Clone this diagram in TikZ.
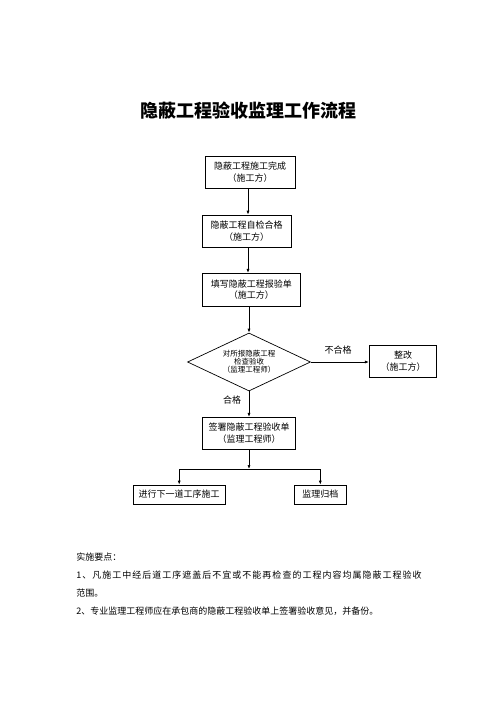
\documentclass[tikz,border=0pt]{standalone}
\usepackage{fontspec}
\setmainfont{Noto Sans CJK SC}
\newfontfamily\widefont[LetterSpace=11.2]{Noto Sans CJK SC}
\usetikzlibrary{shapes.geometric,arrows.meta}
\begin{document}
\begin{tikzpicture}
[x=1pt, y=-1pt, line width=0.7pt,
box/.style={draw, rectangle, inner sep=0pt, align=center, font=\fontsize{9}{11.7}\selectfont},
check/.style={draw, diamond, aspect=2.12, inner sep=0pt, minimum width=123pt, minimum height=58pt, align=center, font=\fontsize{7.5}{8}\selectfont},
arr/.style={-{Latex[length=4pt,width=3pt]}},
lbl/.style={inner sep=0pt, font=\fontsize{9}{9}\selectfont},
note/.style={anchor=west, inner sep=0pt, font=\fontsize{9}{9}\selectfont}]

\useasboundingbox (0,0) rectangle (496,702);

\node (title) at(248,111) {\fontsize{18}{18}\selectfont\bfseries 隐蔽工程验收监理工作流程};

\coordinate (spine) at(248,0);
\node[box, minimum width=90pt, minimum height=32pt] (done) at(250,172) {隐蔽工程施工完成\\（施工方）};
\node[box, minimum width=89pt, minimum height=32pt] (self) at(246.7,231) {隐蔽工程自检合格\\（施工方）};
\node[box, minimum width=97.3pt, minimum height=32.7pt] (form) at(251.3,289.6) {填写隐蔽工程报验单\\（施工方）};
\node[check] (check) at(249,362) {对所报隐蔽工程\\检查验收\\（监理工程师）};
\node[box, minimum width=67.4pt, minimum height=32.3pt] (fix) at(403,361) {整改\\（施工方）};
\node[box, minimum width=93.4pt, minimum height=32pt] (sign) at(249,433.3) {签署隐蔽工程验收单\\（监理工程师）};
\node[box, minimum width=91.7pt, minimum height=19pt] (next) at(179.2,494.5) {进行下一道工序施工};
\node[box, minimum width=52.7pt, minimum height=19pt] (file) at(320.3,494.5) {监理归档};

\node[lbl] (fail) at(338,350) {不合格};
\node[lbl] (pass) at(232,400) {合格};

\draw[arr] (done.south -| spine) -- (self.north -| spine);
\draw[arr] (self.south -| spine) -- (form.north -| spine);
\draw[arr] (form.south -| check.north) -- (check.north);
\draw[arr] (check.east) -- (check.east -| fix.west);
\draw[arr] (check.south) -- (sign.north -| check.south);

\coordinate (branch) at(249,469);
\draw[arr] (sign.south) -- (sign.south |- branch);
\draw[arr] (sign.south |- branch) -| (next.north);
\draw[arr] (sign.south |- branch) -| (file.north);

%notes under the chart
\node[note] (key) at(76,557) {实施要点：};
\node[note] (rule1) at(76,575) {\widefont 1、凡施工中经后道工序遮盖后不宜或不能再检查的工程内容均属隐蔽工程验收};
\node[note] (rule1b) at(76,593) {范围。};
\node[note] (rule2) at(76,611) {2、专业监理工程师应在承包商的隐蔽工程验收单上签署验收意见，并备份。};
\end{tikzpicture}
\end{document}
